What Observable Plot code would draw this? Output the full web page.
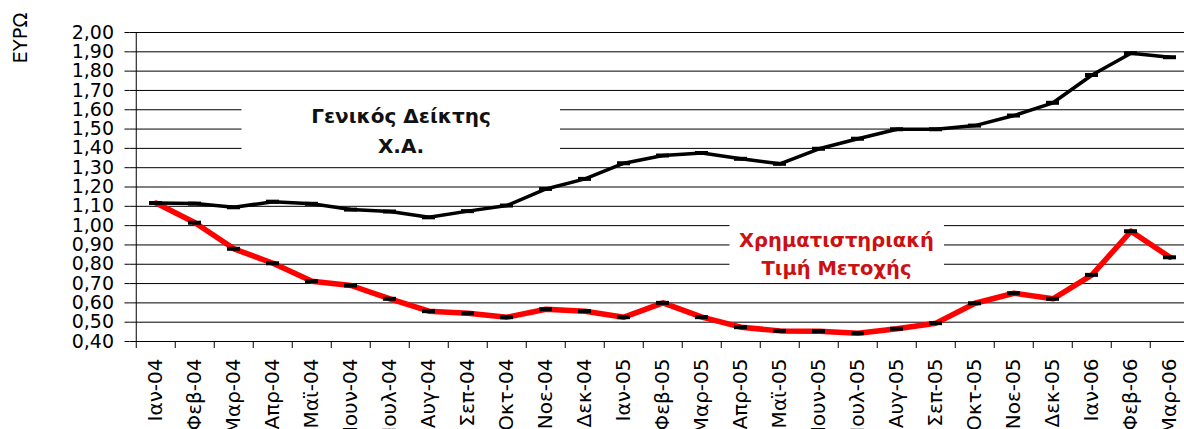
<!DOCTYPE html>
<html>
<head>
<meta charset="utf-8">
<script src="https://cdn.jsdelivr.net/npm/d3@7"></script>
<script src="https://cdn.jsdelivr.net/npm/@observablehq/plot@0.6"></script>
<style>
  html, body { margin: 0; padding: 0; background: #fff; overflow: hidden; }
  #chart svg { display: block; }
</style>
</head>
<body>
<div id="chart"></div>
<script>
const months = ["Ιαν-04","Φεβ-04","Μαρ-04","Απρ-04","Μαϊ-04","Ιουν-04","Ιουλ-04","Αυγ-04","Σεπ-04","Οκτ-04","Νοε-04","Δεκ-04",
                "Ιαν-05","Φεβ-05","Μαρ-05","Απρ-05","Μαϊ-05","Ιουν-05","Ιουλ-05","Αυγ-05","Σεπ-05","Οκτ-05","Νοε-05","Δεκ-05",
                "Ιαν-06","Φεβ-06","Μαρ-06"];
const generalIndex = [1.117,1.114,1.095,1.124,1.113,1.083,1.073,1.043,1.075,1.104,1.19,1.242,
                      1.323,1.363,1.376,1.346,1.32,1.398,1.45,1.499,1.499,1.518,1.57,1.636,
                      1.78,1.893,1.872];
const sharePrice = [1.117,1.015,0.88,0.805,0.712,0.69,0.621,0.557,0.546,0.526,0.567,0.557,
                    0.526,0.60,0.526,0.474,0.455,0.453,0.443,0.466,0.495,0.598,0.65,0.621,
                    0.745,0.971,0.836];
const yTicks = [0.4,0.5,0.6,0.7,0.8,0.9,1.0,1.1,1.2,1.3,1.4,1.5,1.6,1.7,1.8,1.9,2.0];
const yLabel = "ΕΥΡΩ";
const labelIndex = "Γενικός Δείκτης\nΧ.Α.";
const labelShare = "Χρηματιστηριακή\nΤιμή Μετοχής";

const data = months.map((m, i) => ({month: m, gi: generalIndex[i], sp: sharePrice[i]}));

const x0 = 129.5, bw = 39.5;
const fmt = d => d.toFixed(2).replace(".", ",");

const chart = Plot.plot({
  width: 1184,
  height: 429,
  marginLeft: x0,
  marginRight: 0,
  marginTop: 32,
  marginBottom: 88,
  style: {fontFamily: "DejaVu Sans", background: "#fff", color: "#000"},
  x: {type: "band", domain: months, range: [x0, x0 + bw * months.length], padding: 0},
  y: {domain: [0.4, 2.0]},
  marks: [
    Plot.ruleY(yTicks, {stroke: "#000", strokeWidth: 1}),
    // white text boxes
    Plot.barY([labelIndex], {x: () => months[6], y1: 1.33, y2: 1.64, fill: "#fff", insetLeft: -128.5, insetRight: -151}),
    Plot.barY([labelShare], {x: () => months[18], y1: 0.72, y2: 1.02, fill: "#fff", insetLeft: -108.5, insetRight: -67}),
    Plot.text([labelIndex], {x: () => months[6], y: () => 1.505, text: d => d, dx: 11, fontSize: 20, fontWeight: "bold", lineHeight: 1.5, fill: "#111"}),
    Plot.text([labelShare], {x: () => months[18], y: () => 0.862, text: d => d, dx: -21.5, fontSize: 19.5, fontWeight: "bold", lineHeight: 1.42, fill: "#cc1111"}),
    // axes lines and ticks
    Plot.ruleX([months[0]], {x: d => d, dx: -bw / 2, y1: 0.4, y2: 2.0, stroke: "#000"}),
    Plot.ruleX(months, {x: d => d, dx: -bw / 2, y1: 0.4, y2: 0.4, insetBottom: -7, stroke: "#000"}),
    Plot.axisY({ticks: yTicks, tickFormat: fmt, tickSize: 5, tickPadding: 11, fontSize: 19}),
    Plot.axisX({tickRotate: -90, tickSize: 0, tickPadding: 17, fontSize: 20, label: null}),
    Plot.text([yLabel], {frameAnchor: "top-left", text: d => d, rotate: -90, textAnchor: "middle", lineAnchor: "middle", dx: -109, dy: 5.5, fontSize: 19.5, fill: "#000"}),
    // series
    Plot.line(data, {x: "month", y: "sp", stroke: "#ff0000", strokeWidth: 5.5}),
    Plot.line(data, {x: "month", y: "gi", stroke: "#000", strokeWidth: 3.5}),
    Plot.tickY(data, {x: "month", y: "sp", stroke: "#000", strokeWidth: 4, insetLeft: 13, insetRight: 13}),
    Plot.tickY(data, {x: "month", y: "gi", stroke: "#000", strokeWidth: 4, insetLeft: 13, insetRight: 13})
  ]
});
document.getElementById("chart").appendChild(chart);
</script>
</body>
</html>
